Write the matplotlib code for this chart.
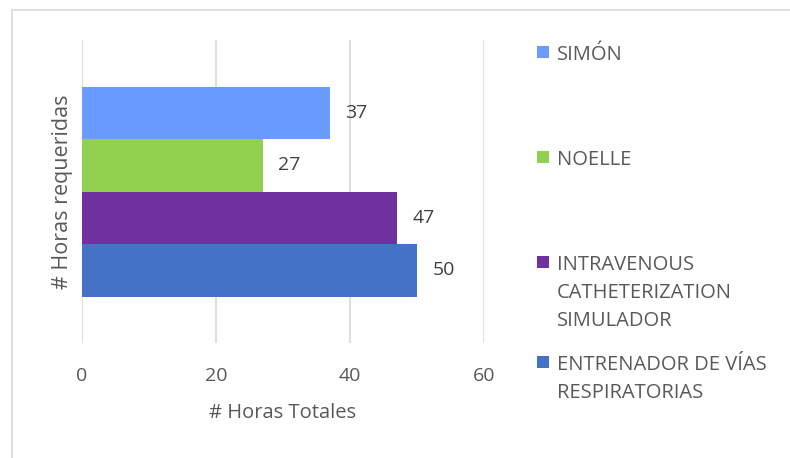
import matplotlib
matplotlib.use("Agg")
import matplotlib.pyplot as plt
from matplotlib.patches import Rectangle

series = ["SIMÓN", "NOELLE", "INTRAVENOUS\nCATHETERIZATION\nSIMULADOR", "ENTRENADOR DE VÍAS\nRESPIRATORIAS"]
values = [37, 27, 47, 50]
colors = ["#6A9BFF", "#92D050", "#7030A0", "#4472C4"]
xticks = [0, 20, 40, 60]

plt.rcParams['font.family'] = ['Open Sans', 'DejaVu Sans']
W, H = 790, 458
fig = plt.figure(figsize=(W/100, H/100), dpi=100)

# outer chart border
fig.patches.append(Rectangle((12/W, -0.05), 1.2, 1 - 10/H + 0.05, transform=fig.transFigure,
                             fill=False, edgecolor="#D9D9D9", linewidth=1.2))

ax = fig.add_axes([82/W, 1 - 343/H, (484-82)/W, (343-40)/H])
n = len(values)
pos = [n - 1 - i for i in range(n)]  # top to bottom
ax.barh(pos, values, height=1.0, color=colors, zorder=2)
ax.set_xlim(0, 60)
extra = (303 / (210/4) - 4) / 2
ax.set_ylim(-0.5 - extra, n - 0.5 + extra)
ax.set_xticks(xticks)
ax.set_yticks([])
ax.grid(axis='x', color="#D9D9D9", linewidth=1.2, zorder=0)
for s in ax.spines.values():
    s.set_visible(False)
ax.tick_params(axis='x', length=0, labelsize=14, labelcolor="#595959", pad=17.5)
for p, v in zip(pos, values):
    ax.annotate(str(v), (v, p), xytext=(11, 0), textcoords='offset points',
                ha='left', va='center', fontsize=14, color="#404040")
ax.set_xlabel("# Horas Totales", fontsize=14.5, color="#595959", labelpad=13)
fig.text(63/W, 1 - 192/H, "# Horas requeridas", rotation=90, ha='center', va='center',
         fontsize=15.5, color="#595959")

# legend
leg_y = [52, 157, 262, 362]
line_h = 28.5
for lab, col, y in zip(series, colors, leg_y):
    fig.patches.append(Rectangle((537/W, 1 - (y + 6)/H), 12/W, 12/H, transform=fig.transFigure,
                                 facecolor=col, edgecolor='none'))
    for k, line in enumerate(lab.split("\n")):
        fig.text(557/W, 1 - (y + k*line_h)/H, line, ha='left', va='center_baseline',
                 fontsize=14.5, color="#595959")

fig.savefig("out.png", dpi=100)
